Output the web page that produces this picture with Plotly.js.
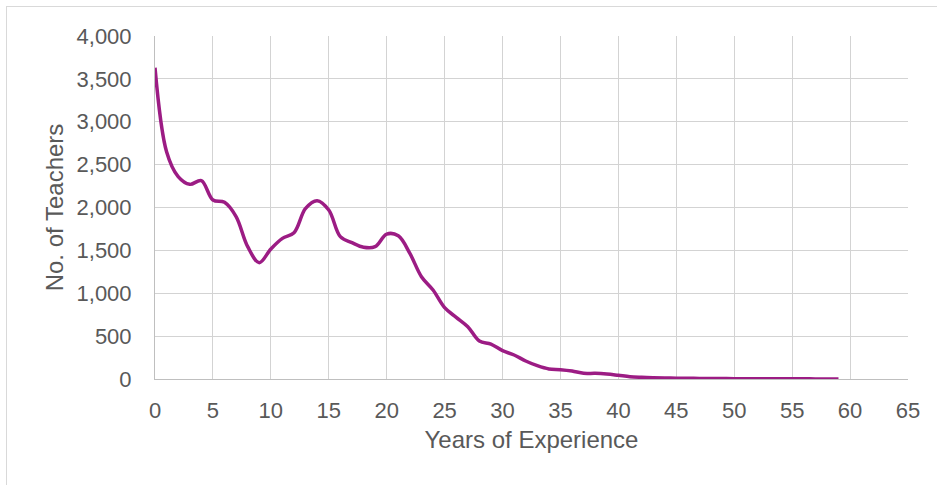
<!DOCTYPE html>
<html>
<head>
<meta charset="utf-8">
<script src="https://cdn.plot.ly/plotly-3.0.1.min.js"></script>
<style>
html,body{margin:0;padding:0;background:#fff;}
#wrap{position:relative;width:937px;height:485px;overflow:hidden;}
#chart{position:absolute;left:0;top:0;width:937px;height:485px;}
#frame{position:absolute;left:6px;top:6px;width:1000px;height:1000px;border:1px solid #D9D9D9;pointer-events:none;}
</style>
</head>
<body>
<div id="wrap"><div id="chart"></div><div id="frame"></div></div>
<script>
const years = [0,1,2,3,4,5,6,7,8,9,10,11,12,13,14,15,16,17,18,19,20,21,22,23,24,25,26,27,28,29,30,31,32,33,34,35,36,37,38,39,40,41,42,43,44,45,46,47,48,49,50,51,52,53,54,55,56,57,58,59];
const teachers = [3630,2650,2360,2270,2313,2088,2060,1893,1543,1357,1516,1640,1706,1990,2080,1971,1660,1590,1536,1543,1690,1670,1465,1193,1038,832,719,610,443,408,330,280,210,155,117,109,93,66,66,58,43,27,20,15,12,10,8,7,6,5,4,4,3,3,2,2,2,1,1,1];
const xTitle = 'Years of Experience';
const yTitle = 'No. of Teachers';

const fontFam = '"Liberation Sans", Arial, sans-serif';
const txt = '#595959';

Plotly.newPlot('chart', [{
  x: years, y: teachers, type: 'scatter', mode: 'lines',
  line: {color: '#9C1C84', width: 3.5, shape: 'spline', smoothing: 1},
  hoverinfo: 'x+y'
}], {
  width: 937, height: 485,
  margin: {l: 155, r: 29, t: 36, b: 106, pad: 0},
  paper_bgcolor: 'rgba(0,0,0,0)', plot_bgcolor: '#fff',
  showlegend: false,
  font: {family: fontFam, color: txt, size: 22},
  xaxis: {
    range: [0, 65], dtick: 5, tick0: 0, showgrid: true, gridcolor: '#D3D3D3', gridwidth: 1,
    zeroline: false, showline: true, linecolor: '#BFBFBF', linewidth: 1, ticks: '',
    tickfont: {size: 22, color: txt, family: fontFam}, ticklabelstandoff: 12,
    title: {text: xTitle, font: {size: 24, color: txt, family: fontFam}, standoff: 8},
    mirror: false
  },
  yaxis: {
    range: [0, 4000], dtick: 500, tickformat: ',', showgrid: true, gridcolor: '#D3D3D3', gridwidth: 1,
    zeroline: false, showline: true, linecolor: '#BFBFBF', linewidth: 1, ticks: '',
    tickfont: {size: 22, color: txt, family: fontFam}, ticklabelstandoff: 18,
    title: {text: yTitle, font: {size: 24, color: txt, family: fontFam}, standoff: 6}
  }
}, {displayModeBar: false, staticPlot: true});
</script>
</body>
</html>
